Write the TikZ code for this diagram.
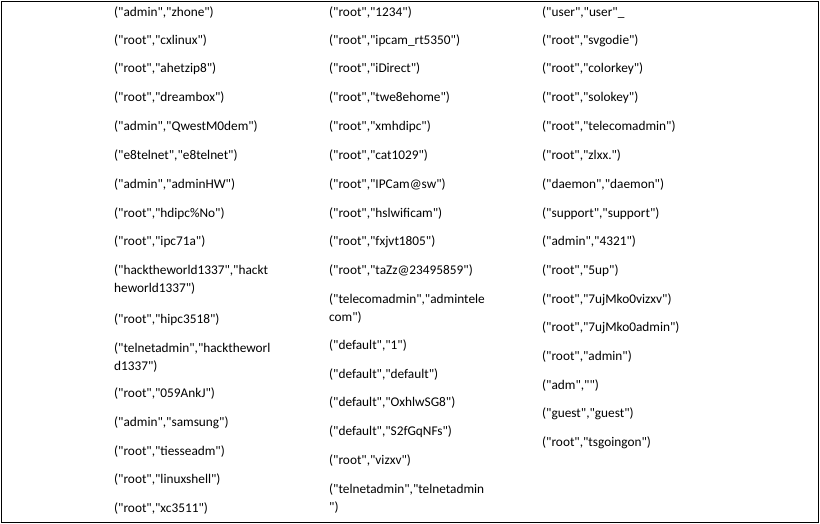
\documentclass[tikz,border=0pt]{standalone}
\usepackage{fontspec}
\setmainfont{Carlito}[Ligatures=TeXOff]
\begin{document}
\begin{tikzpicture}[x=1pt,y=-1pt,
  cred/.style={anchor=west,inner sep=0pt,align=left,font=\fontsize{13.3}{18}\selectfont}]
\useasboundingbox (0,0) rectangle (820,524);
\draw[line width=1.2pt] (1.5,1.5) rectangle (818.5,522.5);
% column 1
\node[cred] (a1) at (114,13) {("admin","zhone")};
\node[cred] (a2) at (114,41) {("root","cxlinux")};
\node[cred] (a3) at (114,69) {("root","ahetzip8")};
\node[cred] (a4) at (114,98) {("root","dreambox")};
\node[cred] (a5) at (114,127) {("admin","QwestM0dem")};
\node[cred] (a6) at (114,156) {("e8telnet","e8telnet")};
\node[cred] (a7) at (114,185) {("admin","adminHW")};
\node[cred] (a8) at (114,214) {("root","hdipc\%No")};
\node[cred] (a9) at (114,242) {("root","ipc71a")};
\node[cred] (a10) at (114,280) {("hacktheworld1337","hackt\\heworld1337")};
\node[cred] (a11) at (114,320) {("root","hipc3518")};
\node[cred] (a12) at (114,358) {("telnetadmin","hacktheworl\\d1337")};
\node[cred] (a13) at (114,394) {("root","059AnkJ")};
\node[cred] (a14) at (114,423) {("admin","samsung")};
\node[cred] (a15) at (114,452) {("root","tiesseadm")};
\node[cred] (a16) at (114,480) {("root","linuxshell")};
\node[cred] (a17) at (114,509) {("root","xc3511")};
% column 2
\node[cred] (b1) at (329,13) {("root","1234")};
\node[cred] (b2) at (329,41) {("root","ipcam\_rt5350")};
\node[cred] (b3) at (329,69) {("root","iDirect")};
\node[cred] (b4) at (329,98) {("root","twe8ehome")};
\node[cred] (b5) at (329,127) {("root","xmhdipc")};
\node[cred] (b6) at (329,156) {("root","cat1029")};
\node[cred] (b7) at (329,185) {("root","IPCam@sw")};
\node[cred] (b8) at (329,214) {("root","hslwificam")};
\node[cred] (b9) at (329,242) {("root","fxjvt1805")};
\node[cred] (b10) at (329,271) {("root","taZz@23495859")};
\node[cred] (b11) at (329,309) {("telecomadmin","admintele\\com")};
\node[cred] (b12) at (329,346) {("default","1")};
\node[cred] (b13) at (329,375) {("default","default")};
\node[cred] (b14) at (329,403) {("default","OxhlwSG8")};
\node[cred] (b15) at (329,432) {("default","S2fGqNFs")};
\node[cred] (b16) at (329,461) {("root","vizxv")};
\node[cred] (b17) at (329,499) {("telnetadmin","telnetadmin\\")};
% column 3
\node[cred] (c1) at (542,13) {("user","user"\_};
\node[cred] (c2) at (542,41) {("root","svgodie")};
\node[cred] (c3) at (542,69) {("root","colorkey")};
\node[cred] (c4) at (542,98) {("root","solokey")};
\node[cred] (c5) at (542,127) {("root","telecomadmin")};
\node[cred] (c6) at (542,156) {("root","zlxx.")};
\node[cred] (c7) at (542,185) {("daemon","daemon")};
\node[cred] (c8) at (542,214) {("support","support")};
\node[cred] (c9) at (542,242) {("admin","4321")};
\node[cred] (c10) at (542,271) {("root","5up")};
\node[cred] (c11) at (542,300) {("root","7ujMko0vizxv")};
\node[cred] (c12) at (542,328) {("root","7ujMko0admin")};
\node[cred] (c13) at (542,357) {("root","admin")};
\node[cred] (c14) at (542,386) {("adm","")};
\node[cred] (c15) at (542,414) {("guest","guest")};
\node[cred] (c16) at (542,443) {("root","tsgoingon")};
\end{tikzpicture}
\end{document}
